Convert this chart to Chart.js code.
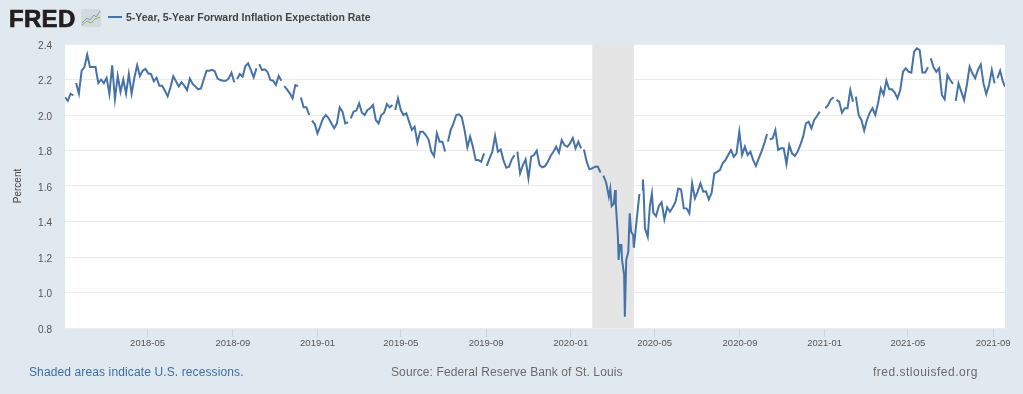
<!DOCTYPE html>
<html>
<head>
<meta charset="utf-8">
<title>5-Year, 5-Year Forward Inflation Expectation Rate</title>
<script src="https://cdn.jsdelivr.net/npm/chart.js@4"></script>
<style>
  html, body { margin: 0; padding: 0; background: #e1e9f0; }
  body { position: relative; width: 1023px; height: 394px; overflow: hidden; font-family: "Liberation Sans", Arial, sans-serif; }
  #chartBox { position: absolute; left: 0; top: 0; width: 1023px; height: 394px; }
  .txt { position: absolute; white-space: nowrap; }
  #logo { left: 9px; top: 5px; font-size: 24px; font-weight: bold; color: #231f20; letter-spacing: .3px; -webkit-text-stroke: .7px #231f20; }
  #logoIcon { position: absolute; left: 81px; top: 9px; }
  #legendLine { position: absolute; left: 108px; top: 16px; width: 14px; height: 2px; background: #4572a7; }
  #legendText { left: 126px; top: 11px; font-size: 10.5px; font-weight: bold; color: #444; }
  .foot { top: 365px; font-size: 12px; color: #6a6a6a; }
</style>
</head>
<body>
<div id="chartBox"><canvas id="fredChart" width="1023" height="394"></canvas></div>
<div class="txt" id="logo">FRED</div>
<svg id="logoIcon" width="20" height="18">
  <rect x="0" y="0" width="20" height="18" rx="2" fill="#d3dade"/>
  <polyline points="1,14 6,9 9,11 13,6 15,8 19,2" fill="none" stroke="#7f9cbd" stroke-width="1"/>
  <polyline points="1,16 6,12 10,14 14,10 19,8" fill="none" stroke="#8fb06a" stroke-width="1"/>
</svg>
<div id="legendLine"></div>
<div class="txt" id="legendText">5-Year, 5-Year Forward Inflation Expectation Rate</div>
<div class="txt foot" style="left:29px;color:#3d6ca5;letter-spacing:.12px">Shaded areas indicate U.S. recessions.</div>
<div class="txt foot" style="left:391px;letter-spacing:.1px">Source: Federal Reserve Bank of St. Louis</div>
<div class="txt foot" style="left:873px;letter-spacing:.5px">fred.stlouisfed.org</div>

<script>
// days counted from 2018-01-01
const days = [
  1,5,9,13,17,21,25,29,33,37,
  41,45,49,53,57,61,65,69,73,77,
  81,85,89,93,97,101,105,109,113,117,
  121,125,129,133,137,141,145,149,153,157,
  161,165,169,173,177,181,185,189,193,197,
  201,205,209,213,217,221,225,229,233,237,
  241,245,249,253,257,261,265,269,273,277,
  281,285,289,293,297,301,305,309,313,317,
  321,325,329,333,337,341,345,349,353,357,
  361,365,369,373,377,381,385,389,393,397,
  401,405,409,413,417,421,425,429,433,437,
  441,445,449,453,457,461,465,469,473,477,
  481,485,489,493,497,501,505,509,513,517,
  521,525,529,533,537,541,545,549,553,557,
  561,565,569,573,577,581,585,589,593,597,
  601,605,609,613,617,621,625,629,633,637,
  641,645,649,653,657,661,665,669,673,677,
  681,685,689,693,697,701,705,709,713,717,
  721,725,729,733,737,741,745,749,753,757,
  761,765,769,773,777,
  781,785,787,789,792,794,795,798,799,801,
  803,804,807,808,810,813,815,817,820,821,
  825,829,833,834,835,837,841,844,847,
  849,853,857,861,865,869,873,877,881,885,
  889,893,897,901,905,909,913,917,921,925,
  929,933,937,941,945,949,953,957,961,965,
  969,973,977,981,985,989,993,997,1001,1005,
  1009,1013,1017,1021,1025,1029,1033,1037,1041,1045,
  1049,1053,1057,1061,1065,1069,1073,1077,1081,1085,
  1089,1093,1097,1101,1105,1109,1113,1117,1121,1125,
  1129,1133,1137,1141,1145,1149,1153,1157,1161,1165,
  1169,1173,1177,1181,1185,1189,1193,1197,1201,1205,
  1209,1213,1217,1221,1225,1229,1233,1237,1241,1245,
  1249,1253,1257,1261,1265,1269,1273,1277,1281,1285,
  1289,1293,1297,1301,1305,1309,1313,1317,1321,1325,
  1329,1333,1337,1341,1345,1349,1353,1356
];

const rates = [
  2.10,2.08,2.12,2.11,2.18,2.12,2.25,2.27,2.34,2.27,
  2.27,2.27,2.18,2.20,2.18,2.21,2.12,2.28,2.09,2.22,
  2.13,2.20,2.12,2.23,2.12,2.21,2.28,2.22,2.25,2.26,
  2.235,2.23,2.19,2.21,2.165,2.165,2.137,2.105,2.155,2.218,
  2.19,2.16,2.185,2.165,2.14,2.205,2.175,2.16,2.145,2.15,
  2.20,2.25,2.25,2.255,2.245,2.205,2.197,2.193,2.193,2.206,
  2.238,2.184,2.203,2.23,2.216,2.276,2.291,2.253,2.212,2.263,
  2.287,2.253,2.257,2.242,2.197,2.193,2.169,2.22,2.193,2.163,
  2.144,2.122,2.094,2.169,2.163,2.099,2.043,2.043,2.0,1.968,
  1.949,1.897,1.938,1.981,2.0,1.981,1.953,1.925,1.953,2.043,
  2.019,1.953,1.959,1.981,2.019,2.025,2.066,2.013,2.0,2.028,
  2.038,2.056,1.972,1.953,2.0,2.013,2.062,2.043,2.056,2.028,
  2.094,2.028,2.0,2.01,1.963,1.916,1.934,1.844,1.906,1.906,
  1.887,1.863,1.794,1.769,1.897,1.85,1.85,1.794,1.85,1.916,
  1.953,2.0,2.004,1.987,1.915,1.818,1.878,1.821,1.746,1.746,
  1.737,1.784,1.713,1.756,1.793,1.882,1.793,1.806,1.746,1.703,
  1.709,1.75,1.774,1.793,1.671,1.718,1.75,1.643,1.765,1.774,
  1.799,1.718,1.705,1.712,1.737,1.769,1.793,1.821,1.788,1.859,
  1.831,1.821,1.84,1.87,1.812,1.85,1.812,1.806,1.737,1.694,
  1.70,1.709,1.71,1.675,1.658,
  1.62,1.54,1.585,1.487,1.50,1.577,1.50,1.314,1.183,1.267,
  1.267,1.183,1.098,0.864,1.183,1.23,1.446,1.343,1.324,1.252,
  1.408,1.555,1.577,1.637,1.577,1.361,1.314,1.483,1.558,
  1.45,1.43,1.487,1.508,1.412,1.48,1.455,1.48,1.51,1.585,
  1.58,1.475,1.474,1.446,1.615,1.53,1.568,1.615,1.568,1.57,
  1.525,1.559,1.671,1.68,1.69,1.728,1.746,1.775,1.803,1.765,
  1.784,1.906,1.775,1.822,1.775,1.793,1.746,1.713,1.756,1.793,
  1.84,1.893,1.863,1.868,1.915,1.803,1.812,1.812,1.724,1.831,
  1.784,1.769,1.793,1.831,1.878,1.953,1.962,1.925,1.972,1.994,
  2.019,2.019,2.038,2.056,2.088,2.1,2.085,2.075,2.013,2.038,
  2.038,2.141,2.075,2.103,2.0,1.972,1.912,1.972,2.013,2.038,
  2.0,2.066,2.15,2.113,2.194,2.145,2.145,2.126,2.094,2.141,
  2.244,2.263,2.244,2.239,2.357,2.376,2.366,2.239,2.239,2.269,
  2.319,2.269,2.244,2.263,2.113,2.088,2.225,2.197,2.175,2.08,
  2.178,2.132,2.085,2.169,2.272,2.235,2.207,2.254,2.285,2.178,
  2.118,2.169,2.254,2.178,2.207,2.25,2.188,2.16
];

// days where the published series has a missing value, the line breaks there
const gapDays = [15,247,279,315,339,355,411,475,551,607,651,747,775,831,1015,1091,1095,1111,1139,1247,1283,1343];

const tickLabels = ['2018-05','2018-09','2019-01','2019-05','2019-09','2020-01','2020-05','2020-09','2021-01','2021-05','2021-09'];
const recessionLabels = ['2020-02','2020-04'];

function monthToDay(label) {
    const parts = label.split('-');
    return (Date.UTC(+parts[0], +parts[1] - 1, 1) - Date.UTC(2018, 0, 1)) / 86400000;
}

const points = days.map((d, i) => ({ x: d, y: rates[i] }))
    .concat(gapDays.map(d => ({ x: d, y: null })))
    .sort((a, b) => a.x - b.x);

// white plot area and the grey recession band
const backdrop = {
    id: 'backdrop',
    beforeDraw(chart) {
        const a = chart.chartArea;
        chart.ctx.fillStyle = '#ffffff';
        chart.ctx.fillRect(a.left, a.top, a.width, a.height);
    },
    beforeDatasetsDraw(chart) {
        const a = chart.chartArea;
        const x0 = chart.scales.x.getPixelForValue(monthToDay(recessionLabels[0]));
        const x1 = chart.scales.x.getPixelForValue(monthToDay(recessionLabels[1]));
        chart.ctx.fillStyle = '#e5e5e5';
        chart.ctx.fillRect(x0, a.top, x1 - x0, a.height);
    }
};

new Chart(document.getElementById('fredChart').getContext('2d'), {
    type: 'line',
    data: {
        datasets: [{
            label: '5-Year, 5-Year Forward Inflation Expectation Rate',
            data: points,
            borderColor: '#4572a7',
            borderWidth: 2,
            pointRadius: 0,
            tension: 0,
            spanGaps: false
        }]
    },
    options: {
        responsive: false,
        animation: false,
        layout: { padding: { top: 44, right: 18, left: 0, bottom: 0 } },
        plugins: { legend: { display: false }, tooltip: { enabled: false } },
        scales: {
            x: {
                type: 'linear',
                min: 1,
                max: 1356,
                afterFit(scale) { scale.height = 66; },
                afterBuildTicks(scale) { scale.ticks = tickLabels.map(l => ({ value: monthToDay(l) })); },
                grid: { drawOnChartArea: false, drawTicks: true, tickLength: 9, tickColor: '#c5d4e4', tickWidth: 1 },
                border: { display: false },
                ticks: {
                    autoSkip: false,
                    maxRotation: 0,
                    padding: 1,
                    color: '#555',
                    font: { family: 'Liberation Sans', size: 9.5 },
                    callback: (v) => tickLabels[tickLabels.findIndex(l => monthToDay(l) === v)]
                }
            },
            y: {
                min: 0.8,
                max: 2.4,
                afterFit(scale) { scale.width = 65; },
                grid: { color: '#ebebeb', lineWidth: 1, drawTicks: false },
                border: { display: false },
                title: {
                    display: true,
                    text: 'Percent',
                    color: '#444',
                    font: { family: 'Liberation Sans', size: 10 },
                    padding: { top: 12, bottom: 0 }
                },
                ticks: {
                    stepSize: 0.2,
                    padding: 13,
                    labelOffset: 2,
                    color: '#555',
                    font: { family: 'Liberation Sans', size: 10 },
                    callback: (v) => v.toFixed(1)
                }
            }
        }
    },
    plugins: [backdrop]
});
</script>
</body>
</html>
